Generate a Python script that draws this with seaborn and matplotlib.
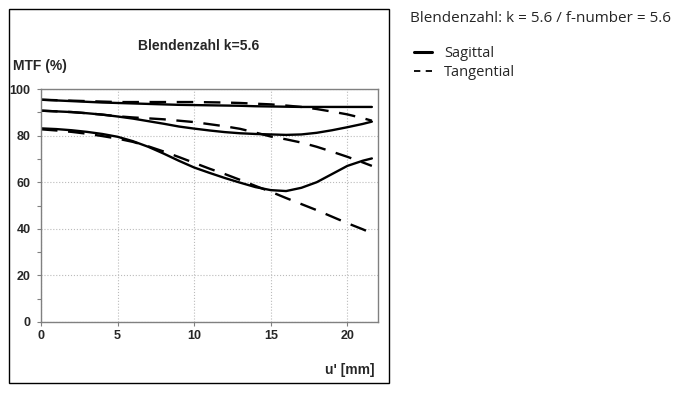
import numpy as np
import pandas as pd
import matplotlib
matplotlib.use('Agg')
import matplotlib.pyplot as plt
from matplotlib.lines import Line2D
from matplotlib.patches import Rectangle
import seaborn as sns

# Bildhöhe u' [mm]
U = [0, 1, 2, 3, 4, 5, 6, 7, 8, 9, 10, 11, 12, 13, 14, 15, 16, 17, 18, 19, 20, 21, 21.6]

# MTF-Kurven (drei Ortsfrequenzen), sagittal / tangential
SAG_1 = [95.4, 95.1, 94.8, 94.5, 94.2, 94.0, 93.8, 93.6, 93.4, 93.2, 93.1, 93.0,
         92.9, 92.8, 92.6, 92.5, 92.4, 92.3, 92.3, 92.3, 92.3, 92.3, 92.3]
TAN_1 = [95.4, 95.2, 95.0, 94.8, 94.6, 94.4, 94.4, 94.4, 94.4, 94.4, 94.4, 94.3,
         94.2, 94.0, 93.7, 93.4, 92.9, 92.3, 91.4, 90.3, 89.1, 87.5, 86.4]
SAG_2 = [90.7, 90.4, 90.1, 89.6, 89.0, 88.2, 87.3, 86.2, 85.1, 83.9, 83.0, 82.2,
         81.5, 81.0, 80.7, 80.5, 80.3, 80.5, 81.2, 82.3, 83.6, 85.0, 86.0]
TAN_2 = [90.7, 90.4, 90.1, 89.6, 89.0, 88.3, 87.8, 87.4, 87.0, 86.4, 85.8, 84.9,
         84.0, 82.9, 81.3, 79.6, 78.4, 77.0, 75.2, 73.1, 70.9, 68.5, 67.0]
SAG_3 = [83.1, 82.8, 82.3, 81.6, 80.7, 79.5, 77.6, 75.2, 72.3, 69.2, 66.3, 64.0,
         61.8, 59.8, 57.9, 56.6, 56.2, 57.6, 60.0, 63.5, 67.0, 69.2, 70.2]
TAN_3 = [82.7, 82.2, 81.6, 80.8, 79.8, 78.7, 77.3, 75.4, 73.2, 70.8, 68.3, 65.8,
         63.5, 61.0, 58.4, 55.9, 53.2, 50.6, 48.0, 45.2, 42.4, 39.8, 38.1]

CURVES = {
    ('Sagittal', 1): SAG_1, ('Tangential', 1): TAN_1,
    ('Sagittal', 2): SAG_2, ('Tangential', 2): TAN_2,
    ('Sagittal', 3): SAG_3, ('Tangential', 3): TAN_3,
}

W, H = 681, 396

rows = []
for (kind, idx), vals in CURVES.items():
    for u, v in zip(U, vals):
        rows.append({'u': u, 'mtf': v, 'kind': kind, 'curve': f'{kind}{idx}'})
df = pd.DataFrame(rows)

sns.set_style('white')
plt.rcParams['font.family'] = ['Liberation Sans', 'DejaVu Sans']

fig = plt.figure(figsize=(W / 100, H / 100), dpi=100)

# Rahmen um das Diagramm
fig.patches.append(Rectangle((9 / W, 1 - 383 / H), 380 / W, 374 / H,
                             transform=fig.transFigure, fill=False,
                             edgecolor='black', linewidth=1.0))

ax = fig.add_axes([41 / W, 1 - 322 / H, (378 - 41) / W, (322 - 89) / H])

sns.lineplot(data=df, x='u', y='mtf', units='curve', estimator=None,
             style='kind', style_order=['Sagittal', 'Tangential'],
             dashes={'Sagittal': '', 'Tangential': (7, 4.5)},
             color='black', linewidth=1.7, legend=False, ax=ax, sort=False)

ax.set_xlim(0, 22)
ax.set_ylim(0, 100)
ax.set_xticks([0, 5, 10, 15, 20])
ax.set_yticks([0, 20, 40, 60, 80, 100])
ax.set_yticks([10, 30, 50, 70, 90], minor=True)
ax.grid(True, which='major', color='#bbbbbb', linestyle=':', linewidth=0.8)
for s in ax.spines.values():
    s.set_color('#808080')
    s.set_linewidth(1.0)
ax.tick_params(axis='both', which='both', direction='out', length=3, width=0.8,
               color='#808080', labelsize=9)
ax.tick_params(axis='x', pad=3)
ax.tick_params(axis='y', pad=4.5)
ax.tick_params(left=True, bottom=True)
ax.tick_params(axis='y', which='minor', left=True, length=3)
for lab in ax.get_xticklabels() + ax.get_yticklabels():
    lab.set_fontweight('bold')
ax.set_xlabel('')
ax.set_ylabel('')

fig.text(199 / W, 1 - 46 / H, 'Blendenzahl k=5.6', ha='center', va='center',
         fontsize=10, fontweight='bold')
fig.text(13 / W, 1 - 66 / H, 'MTF (%)', ha='left', va='center',
         fontsize=10, fontweight='bold')
fig.text(375 / W, 1 - 370 / H, "u' [mm]", ha='right', va='center',
         fontsize=10, fontweight='bold')

fig.text(410 / W, 1 - 18 / H, 'Blendenzahl: k = 5.6 / f-number = 5.6',
         ha='left', va='center', fontsize=11, family=['Open Sans', 'DejaVu Sans'])

handles = [Line2D([], [], color='black', linewidth=2.2),
           Line2D([], [], color='black', linewidth=1.3, dashes=(3.5, 3))]
fig.legend(handles, ['Sagittal', 'Tangential'], loc='upper left',
           bbox_to_anchor=(414 / W, 1 - 46 / H), frameon=False,
           handlelength=1.25, handletextpad=0.8, labelspacing=0.3,
           borderaxespad=0, borderpad=0,
           prop={'family': ['Open Sans', 'DejaVu Sans'], 'size': 10.5})

fig.savefig('out.png', dpi=100)
